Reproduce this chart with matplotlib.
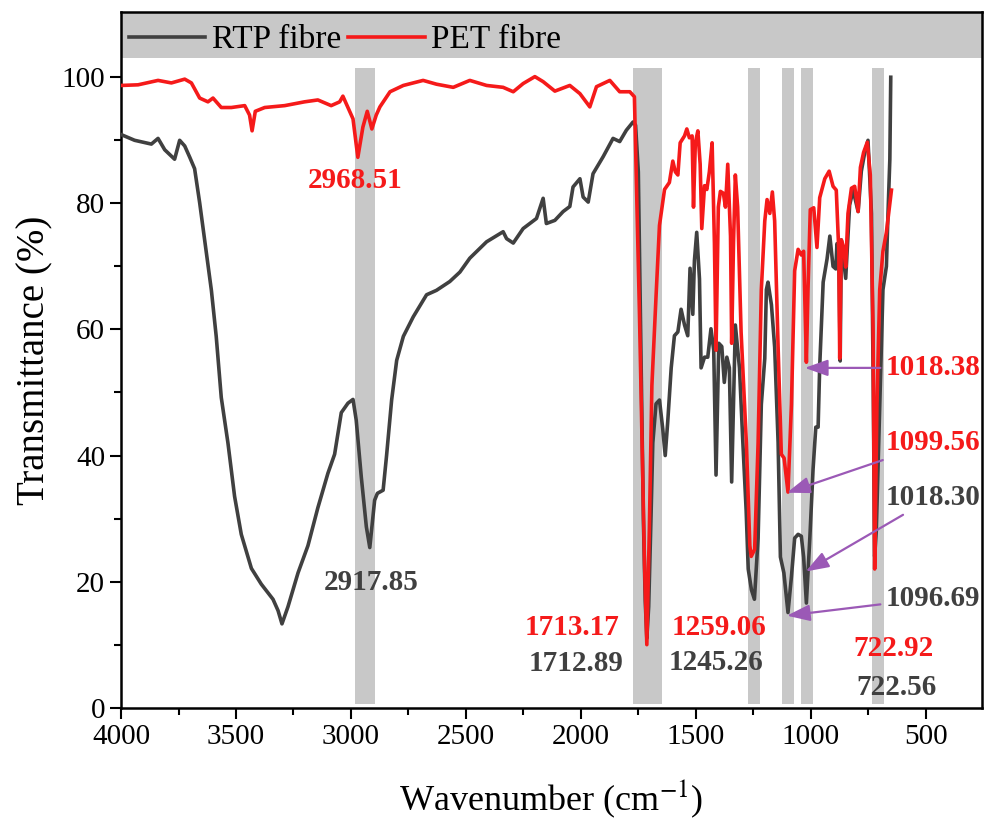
import matplotlib
matplotlib.use("Agg")
import matplotlib.pyplot as plt
from matplotlib.ticker import FixedLocator

plt.rcParams['font.family'] = ['Liberation Serif', 'DejaVu Serif']
plt.rcParams['mathtext.fontset'] = 'stix'

# RTP fibre spectrum (wavenumber, transmittance)
wn_rtp = [3999, 3941, 3868, 3839, 3810, 3767, 3745, 3723, 3701, 3680, 3658, 3629, 3607, 3586,
          3564, 3535, 3506, 3477, 3433, 3390, 3339, 3317, 3300, 3274, 3230, 3187, 3144, 3100,
          3071, 3042, 3013, 2991, 2977, 2955, 2933, 2918, 2897, 2885, 2860, 2845, 2823, 2801,
          2772, 2729, 2671, 2628, 2570, 2526, 2483, 2410, 2338, 2323, 2294, 2251, 2193, 2164,
          2150, 2113, 2077, 2048, 2034, 2004, 1990, 1968, 1947, 1903, 1860, 1831, 1802, 1773,
          1762, 1750, 1740, 1728, 1720, 1713, 1705, 1695, 1687, 1673, 1658, 1644, 1633, 1622,
          1607, 1593, 1578, 1564, 1549, 1535, 1525, 1513, 1506, 1496, 1484, 1477, 1462, 1448,
          1434, 1422, 1412, 1400, 1387, 1376, 1365, 1354, 1344, 1328, 1310, 1296, 1281, 1272,
          1258, 1245, 1229, 1215, 1200, 1193, 1186, 1171, 1157, 1142, 1132, 1117, 1099, 1084,
          1070, 1055, 1041, 1031, 1019, 1004, 990, 978, 968, 961, 946, 929, 917, 903, 891, 886,
          878, 872, 867, 848, 831, 816, 794, 780, 765, 751, 736, 728, 722, 715, 700, 686, 671,
          664, 656, 652]
t_rtp = [90.9, 90.0, 89.4, 90.3, 88.5, 87.0, 90.0, 89.1, 87.3, 85.5, 80.1, 72.2, 66.2, 58.9,
         49.2, 42.0, 33.5, 27.5, 22.1, 19.6, 17.2, 15.4, 13.3, 16.0, 21.4, 25.7, 31.7, 37.2,
         40.2, 46.8, 48.3, 48.9, 45.6, 36.6, 28.7, 25.4, 32.9, 34.0, 34.5, 40.0, 48.8, 55.1,
         58.9, 62.0, 65.5, 66.2, 67.6, 69.1, 71.3, 73.9, 75.5, 74.4, 73.7, 76.0, 77.6, 80.8,
         76.8, 77.3, 78.7, 79.5, 82.6, 83.9, 81.0, 80.2, 84.7, 87.4, 90.3, 89.8, 91.6, 92.9,
         92.4, 85.0, 60.0, 30.0, 17.0, 11.0, 16.0, 30.0, 42.0, 48.2, 48.8, 44.3, 40.0, 45.4,
         53.9, 59.0, 59.6, 63.2, 60.7, 59.0, 69.7, 62.4, 70.9, 75.4, 68.0, 53.9, 55.6, 55.6,
         60.1, 56.7, 36.9, 57.8, 57.3, 51.6, 55.6, 53.9, 35.8, 60.7, 53.9, 42.6, 31.3, 22.0,
         18.7, 17.2, 26.9, 48.1, 55.4, 66.3, 67.5, 63.9, 57.2, 42.1, 23.9, 21.4, 15.1, 20.8,
         26.9, 27.5, 27.2, 23.9, 16.6, 26.9, 37.8, 44.5, 44.5, 54.2, 67.5, 71.2, 74.8, 70.0, 69.6, 73.6,
         72.0, 55.0, 74.2, 68.1, 79.7, 82.1, 78.7, 85.1, 88.1, 90.0, 78.4, 50.0, 24.0, 28.0, 48.1, 66.3, 70.0,
         78.4, 87.0, 100.0]

# PET fibre spectrum
wn_pet = [3999, 3926, 3839, 3781, 3723, 3694, 3658, 3622, 3600, 3564, 3520, 3462, 3441, 3430,
          3416, 3375, 3288, 3202, 3144, 3086, 3049, 3035, 3013, 2991, 2970, 2948, 2929, 2909,
          2890, 2874, 2830, 2772, 2686, 2628, 2555, 2483, 2410, 2338, 2294, 2251, 2200, 2164,
          2113, 2048, 2004, 1961, 1932, 1874, 1831, 1787, 1767, 1745, 1723, 1713, 1702, 1691,
          1673, 1658, 1636, 1615, 1600, 1589, 1578, 1568, 1549, 1539, 1528, 1516, 1510, 1502,
          1491, 1481, 1474, 1462, 1452, 1441, 1429, 1419, 1412, 1402, 1393, 1380, 1371, 1361,
          1349, 1344, 1336, 1328, 1318, 1303, 1280, 1265, 1259, 1244, 1229, 1215, 1200, 1190,
          1178, 1167, 1157, 1142, 1128, 1116, 1099, 1084, 1070, 1055, 1041, 1031, 1019, 1012,
          1002, 987, 973, 961, 939, 920, 903, 889, 878, 874, 867, 857, 848, 838, 823, 809, 794,
          784, 770, 754, 741, 729, 722, 712, 700, 686, 671, 649]
t_pet = [98.7, 98.8, 99.5, 99.1, 99.7, 99.1, 96.7, 96.1, 96.7, 95.2, 95.2, 95.5, 94.0, 91.5,
         94.6, 95.2, 95.5, 96.1, 96.4, 95.5, 96.1, 97.0, 95.2, 93.4, 87.3, 92.1, 94.6, 91.8,
         94.0, 95.3, 97.7, 98.7, 99.5, 98.9, 98.4, 99.5, 98.7, 98.4, 97.7, 99.0, 100.1, 99.3,
         97.8, 98.7, 97.4, 95.3, 98.5, 99.5, 97.7, 97.7, 96.9, 62.4, 22.8, 10.0, 28.4, 51.1,
         65.2, 76.5, 82.2, 83.3, 86.7, 85.0, 84.5, 89.6, 90.7, 91.8, 90.4, 90.7, 79.4, 89.6,
         91.5, 86.2, 76.0, 82.8, 82.2, 85.0, 89.6, 73.7, 56.7, 79.4, 81.9, 81.6, 79.4, 86.2,
         74.8, 57.8, 73.7, 84.5, 79.4, 59.6, 42.0, 25.7, 24.0, 25.1, 42.0, 66.3, 77.2, 80.6,
         78.4, 81.8, 77.2, 57.2, 40.2, 39.6, 34.2, 48.1, 69.3, 72.7, 71.8, 72.4, 54.8, 66.3,
         79.0, 79.3, 73.0, 80.9, 83.9, 85.1, 82.7, 82.1, 72.4, 55.4, 74.2, 73.0, 69.9, 78.4, 82.4, 82.7, 78.7,
         85.7, 88.1, 89.7, 84.5, 60.2, 22.0, 48.1, 66.3, 72.4, 75.4, 82.1]

# shaded peak regions (wavenumber ranges)
bands = [(2983, 2896), (1774, 1648), (1274, 1222), (1126, 1074), (1043, 991), (735, 683)]

# peak labels: text, x, y, colour
peak_labels = [("2968.51", 2983, 83.7, 'red'), ("2917.85", 2913, 19.8, 'dark'),
               ("1713.17", 2039, 12.8, 'red'), ("1712.89", 2022, 7.0, 'dark'),
               ("1259.06", 1400, 12.7, 'red'), ("1245.26", 1413, 7.1, 'dark'),
               ("722.92", 639, 9.4, 'red'), ("722.56", 626, 3.2, 'dark')]

# arrow labels: text, text x, text y, arrow tip x, tip y, colour
arrow_labels = [("1018.38", 673, 53.9, 1026, 53.9, 'red'),
                ("1099.56", 673, 42.0, 1104, 34.1, 'red'),
                ("1018.30", 673, 33.4, 1022, 21.6, 'dark'),
                ("1096.69", 673, 17.4, 1104, 14.6, 'dark')]

colors = {'red': '#f51a1a', 'dark': '#404040'}
band_color = '#c8c8c8'
arrow_color = '#9b59b6'

fig = plt.figure(figsize=(9.84, 8.21), dpi=100)
ax = fig.add_axes([0.123, 0.138, 0.875, 0.847])

for hi, lo in bands:
    ax.fill_between([lo, hi], 0.6, 101.4, color=band_color, lw=0, zorder=1)
ax.axhspan(103.0, 111, color=band_color, lw=0, zorder=1)

ax.plot(wn_rtp, t_rtp, color=colors['dark'], lw=2.6, label='RTP fibre', zorder=3)
ax.plot(wn_pet, t_pet, color=colors['red'], lw=2.6, label='PET fibre', zorder=4)

for txt, x, y, c in peak_labels:
    ax.text(x, y, txt, color=colors[c], fontsize=21, fontweight='bold',
            ha='center', va='center', zorder=5)

for txt, x, y, tx, ty, c in arrow_labels:
    ax.annotate(txt, xy=(tx, ty), xytext=(x, y), color=colors[c], fontsize=21,
                fontweight='bold', ha='left', va='center', zorder=5,
                arrowprops=dict(arrowstyle='-|>,head_length=0.7,head_width=0.25',
                                color=arrow_color, lw=1.6,
                                mutation_scale=20, shrinkA=2, shrinkB=0))

ax.set_xlim(4000, 255)
ax.set_ylim(0, 110.3)
ax.xaxis.set_major_locator(FixedLocator([4000, 3500, 3000, 2500, 2000, 1500, 1000, 500]))
ax.xaxis.set_minor_locator(FixedLocator([3750, 3250, 2750, 2250, 1750, 1250, 750, 250]))
ax.yaxis.set_major_locator(FixedLocator([0, 20, 40, 60, 80, 100]))
ax.yaxis.set_minor_locator(FixedLocator([10, 30, 50, 70, 90]))
ax.tick_params(which='major', direction='out', length=8, width=1.5, labelsize=21)
ax.tick_params(which='minor', direction='out', length=5, width=1.5)
for s in ax.spines.values():
    s.set_linewidth(1.8)

ax.set_xlabel('Wavenumber (cm$^{-1}$)', fontsize=26, labelpad=20)
ax.set_ylabel('Transmittance (%)', fontsize=28, labelpad=6)

ax.legend(loc='upper left', bbox_to_anchor=(-0.026, 1.025), ncol=2, frameon=False,
          fontsize=24, handlelength=2.3, handletextpad=0.2, columnspacing=0.2)

fig.savefig('out.png', dpi=100)
